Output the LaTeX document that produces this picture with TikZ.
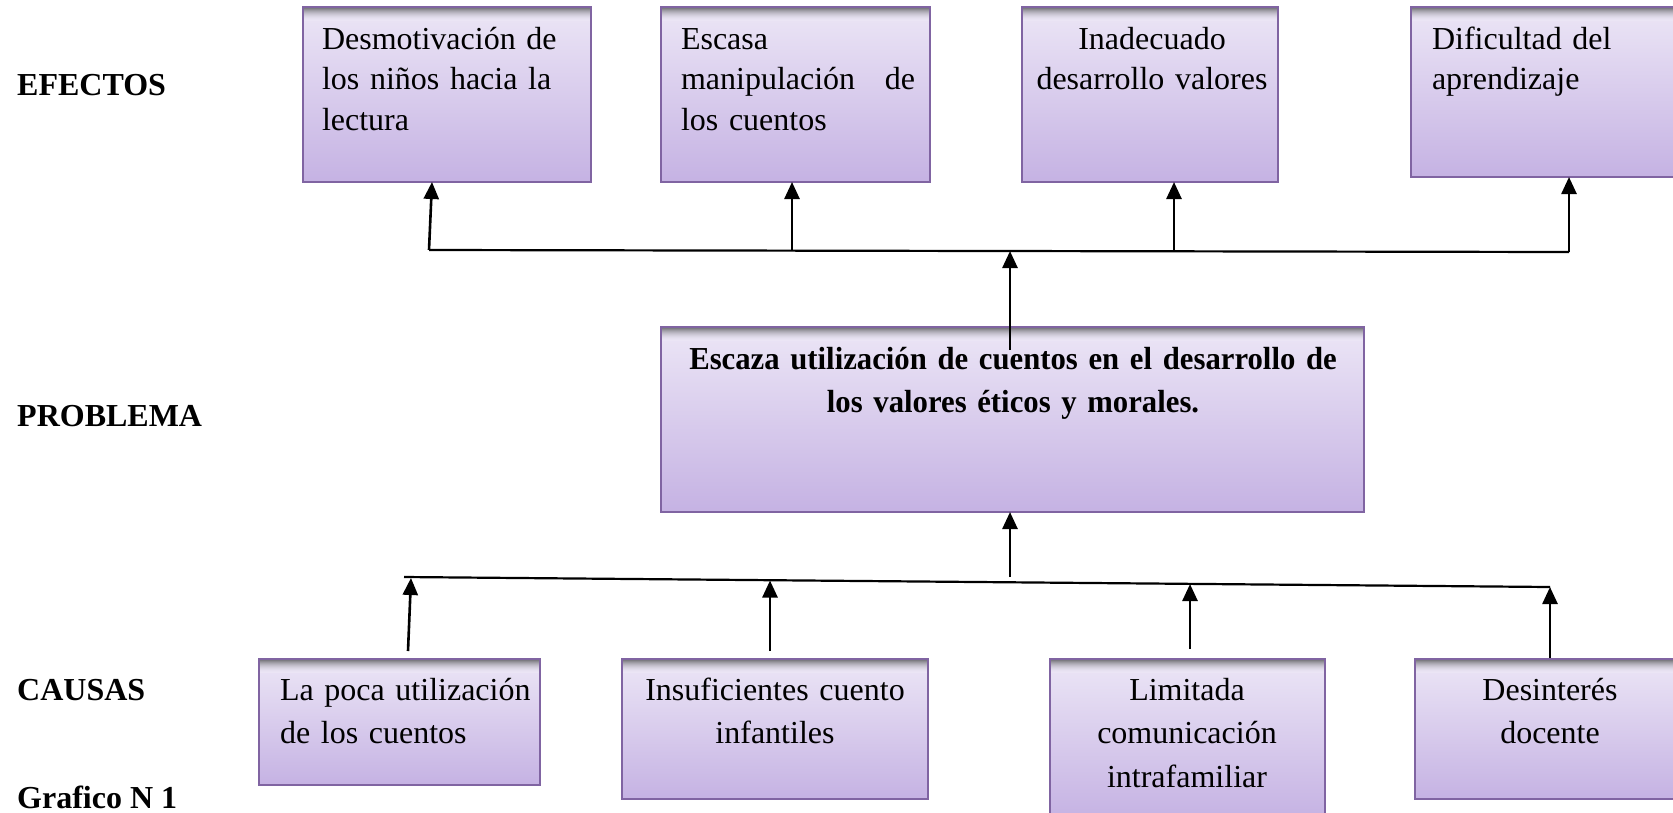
\documentclass[tikz,border=0pt]{standalone}
\usepackage{fontspec}
\setmainfont{Liberation Serif}
\newfontfamily\probfont[FakeStretch=0.96]{Liberation Serif}
\usetikzlibrary{arrows.meta}
\definecolor{lavtop}{HTML}{ECE6F6}
\definecolor{lavbot}{HTML}{C5B2E3}
\definecolor{boxline}{HTML}{8064A2}
\definecolor{shadowc}{HTML}{6A6A6E}
\tikzset{
  cbox/.style={rectangle, draw=boxline, line width=1.8pt, top color=lavtop, bottom color=lavbot,
    anchor=north west, inner sep=0pt, outer sep=0pt,
    path picture={\foreach \i in {0,...,13}{%
        \pgfmathsetmacro\pc{100*(1-\i/14)^2}%
        \fill[shadowc!\pc!lavtop] ([yshift={-\i*1pt}]path picture bounding box.north west)
          rectangle ([yshift={-\i*1pt-1.2pt}]path picture bounding box.north east);}}},
  txt/.style={inner sep=0pt, outer sep=0pt, font=\fontsize{32}{40.5}\selectfont},
  ltxt/.style={txt, anchor=base west, align=left},
  ctxt/.style={txt, anchor=base, align=center},
  lbl/.style={inner sep=0pt, anchor=base west, font=\fontsize{32}{43}\selectfont\bfseries},
  arr/.style={line width=2.6pt, -{Triangle[width=15pt,length=17pt]}},
  hline/.style={line width=2.2pt}
}
\begin{document}
\begin{tikzpicture}[x=1pt,y=-1pt]
\useasboundingbox[fill=white] (0,0) rectangle (1673,812);

% labels
\node[lbl] (lef) at (17,95) {EFECTOS};
\node[lbl] (lpr) at (17,426) {PROBLEMA};
\node[lbl] (lca) at (17,700) {CAUSAS};
\node[lbl] (lgr) at (17,808) {Grafico N 1};

% effect boxes
\node[cbox, minimum width=288pt, minimum height=175pt] (e1) at (303,7) {};
\node[cbox, minimum width=269pt, minimum height=175pt] (e2) at (661,7) {};
\node[cbox, minimum width=256pt, minimum height=175pt] (e3) at (1022,7) {};
\node[cbox, minimum width=275pt, minimum height=170pt] (e4) at (1411,7) {};

\node[ltxt, text width=265pt] (e1t) at (322,49) {Desmotivación de\\los niños hacia la\\lectura};
\node[ltxt, text width=240pt] (e2t) at (681,49) {Escasa\\\makebox[234pt][l]{manipulación\hfill de}\\los cuentos};
\node[ctxt, text width=250pt] (e3t) at (1152,49) {Inadecuado\\desarrollo valores};
\node[ltxt, text width=240pt] (e4t) at (1432,49) {Dificultad del\\aprendizaje};

% problem box
\node[cbox, minimum width=703pt, minimum height=185pt] (p) at (661,327) {};
\node[ctxt, text width=700pt, font=\fontsize{32}{43}\selectfont\probfont\bfseries] (pt) at (1013,369)
  {Escaza utilización de cuentos en el desarrollo de\\los valores éticos y morales.};

% cause boxes
\node[cbox, minimum width=281pt, minimum height=126pt] (c1) at (259,659) {};
\node[cbox, minimum width=306pt, minimum height=140pt] (c2) at (622,659) {};
\node[cbox, minimum width=275pt, minimum height=160pt] (c3) at (1050,659) {};
\node[cbox, minimum width=270pt, minimum height=140pt] (c4) at (1415,659) {};

\node[ltxt, text width=260pt, font=\fontsize{32}{43}\selectfont] (c1t) at (280,700) {La poca utilización\\de los cuentos};
\node[ctxt, text width=300pt, font=\fontsize{32}{43}\selectfont] (c2t) at (775,700) {Insuficientes cuento\\infantiles};
\node[ctxt, text width=270pt, font=\fontsize{32}{43.5}\selectfont] (c3t) at (1187,700) {Limitada\\comunicación\\intrafamiliar};
\node[ctxt, text width=250pt, font=\fontsize{32}{43}\selectfont] (c4t) at (1550,700) {Desinterés\\docente};

% top connector line
\coordinate (tl) at (429,250);
\coordinate (tr) at (1569,252);
\coordinate (t2) at (792,250.6);
\coordinate (t3) at (1174,251.3);
\coordinate (tc) at (1010,251);
\draw[hline] (tl) -- (tr);
\draw[arr] (tl) -- ([xshift=3pt]tl |- e1.south);
\draw[arr] (t2) -- (t2 |- e2.south);
\draw[arr] (t3) -- (t3 |- e3.south);
\draw[arr] (tr) -- (tr |- e4.south);
\draw[arr] ([yshift=-23pt]p.north -| tc) -- (tc);

% bottom connector line
\coordinate (bl) at (404,577);
\coordinate (br) at (1550,587);
\coordinate (j1) at (411,578);
\coordinate (j2) at (770,580.5);
\coordinate (j3) at (1190,584);
\coordinate (pj) at (1010,577);
\draw[hline] (bl) -- (br);
\draw[arr] (pj) -- (pj |- p.south);
\draw[arr] ([xshift=-3pt,yshift=8pt]c1.north -| j1) -- (j1);
\draw[arr] ([yshift=8pt]c2.north -| j2) -- (j2);
\draw[arr] ([yshift=10pt]c3.north -| j3) -- (j3);
\draw[arr] ([yshift=1pt]c4.north -| br) -- (br);
\end{tikzpicture}
\end{document}
